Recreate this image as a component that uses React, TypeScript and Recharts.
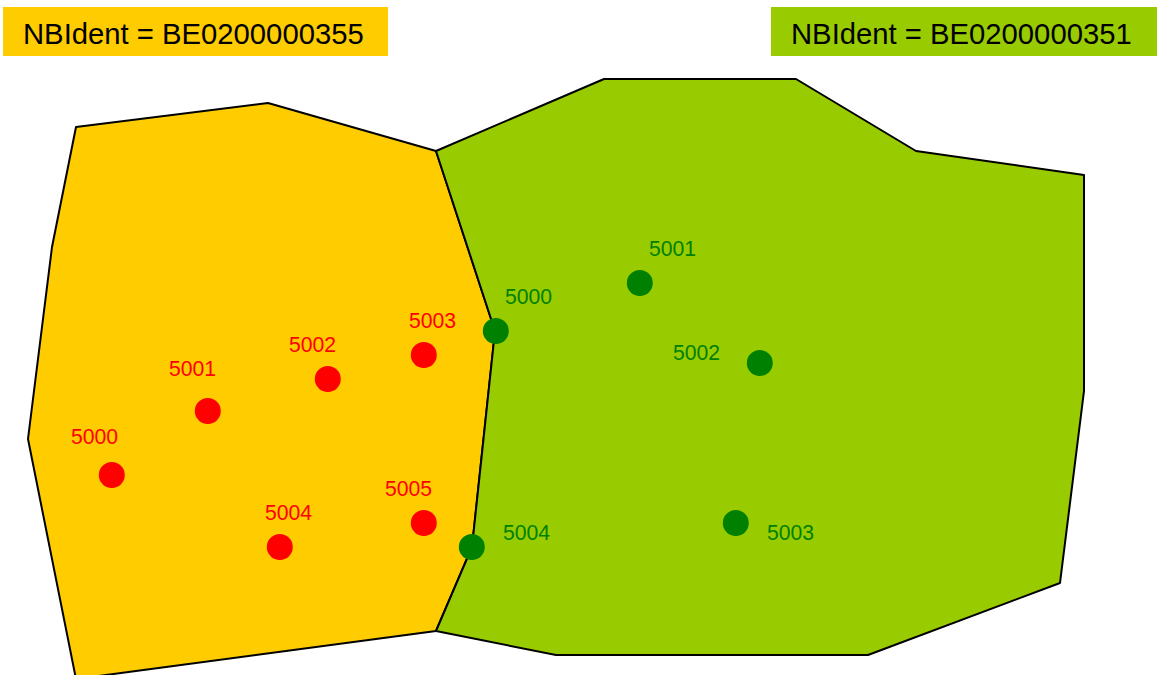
import React from 'react';
import { ScatterChart, Scatter, XAxis, YAxis, ReferenceArea } from 'recharts';

const orangeRegion = [
  { x: 76, y: 127 }, { x: 268, y: 103 }, { x: 436, y: 151 }, { x: 495, y: 331 }, { x: 472, y: 547 },
  { x: 436, y: 631 }, { x: 76, y: 679 }, { x: 28, y: 439 }, { x: 52, y: 247 },
];
const greenRegion = [
  { x: 436, y: 151 }, { x: 604, y: 79 }, { x: 796, y: 79 }, { x: 916, y: 151 }, { x: 1084, y: 175 },
  { x: 1084, y: 391 }, { x: 1060, y: 583 }, { x: 868, y: 655 }, { x: 556, y: 655 }, { x: 436, y: 631 },
  { x: 472, y: 547 }, { x: 495, y: 331 },
];
const redPoints = [
  { x: 111.8, y: 475 }, { x: 207.8, y: 411 }, { x: 327.8, y: 379 }, { x: 423.8, y: 355 }, { x: 279.8, y: 547 }, { x: 423.8, y: 523 },
];
const greenPoints = [
  { x: 495.8, y: 331 }, { x: 639.8, y: 283 }, { x: 759.8, y: 363 }, { x: 735.8, y: 523 }, { x: 471.8, y: 547 },
];
const redLabels = [
  { x: 71, y: 444, text: '5000' }, { x: 169, y: 376, text: '5001' }, { x: 289, y: 352, text: '5002' },
  { x: 409, y: 328, text: '5003' }, { x: 265, y: 520, text: '5004' }, { x: 385, y: 496, text: '5005' },
];
const greenLabels = [
  { x: 505, y: 304, text: '5000' }, { x: 649, y: 256, text: '5001' }, { x: 673, y: 360, text: '5002' },
  { x: 767, y: 540, text: '5003' }, { x: 503, y: 540, text: '5004' },
];
const legendLabels = [
  { x: 23, y: 44, text: 'NBIdent = BE0200000355' },
  { x: 791, y: 44, text: 'NBIdent = BE0200000351' },
];

const FONT = '"Liberation Sans", Arial, sans-serif';
const ORANGE = '#FFCC00';
const LIME = '#99CC00';
const RED = '#FF0000';
const GREEN = '#008000';

const polygon = (fill: string) => (p: any) => (
  <polygon
    points={p.points.map((q: any) => `${q.x},${q.y}`).join(' ')}
    fill={fill}
    stroke="#000"
    strokeWidth={2}
    strokeLinejoin="round"
  />
);
const noPoint = () => <g />;
const dot = (fill: string) => (p: any) => <circle cx={p.cx} cy={p.cy} r={13} fill={fill} />;
const text = (fill: string, size: number) => (p: any) => (
  <text x={p.cx} y={p.cy} fill={fill} fontSize={size} fontFamily={FONT}>{p.payload.text}</text>
);

export default function App() {
  return (
    <div style={{ position: 'absolute', left: 0, top: 0, width: 1157, height: 675, overflow: 'hidden' }}>
      <ScatterChart width={1157} height={720} margin={{ top: 0, right: 0, bottom: 0, left: 0 }}>
        <XAxis type="number" dataKey="x" domain={[0, 1157]} hide />
        <YAxis type="number" dataKey="y" domain={[0, 720]} reversed hide />
        <ReferenceArea x1={3} x2={388} y1={7} y2={56} fill={ORANGE} fillOpacity={1} stroke="none" />
        <ReferenceArea x1={771} x2={1157} y1={7} y2={56} fill={LIME} fillOpacity={1} stroke="none" />
        <Scatter data={orangeRegion} line={polygon(ORANGE)} shape={noPoint} isAnimationActive={false} />
        <Scatter data={greenRegion} line={polygon(LIME)} shape={noPoint} isAnimationActive={false} />
        <Scatter data={redPoints} shape={dot(RED)} isAnimationActive={false} />
        <Scatter data={greenPoints} shape={dot(GREEN)} isAnimationActive={false} />
        <Scatter data={redLabels} shape={text(RED, 21.2)} isAnimationActive={false} />
        <Scatter data={greenLabels} shape={text(GREEN, 21.2)} isAnimationActive={false} />
        <Scatter data={legendLabels} shape={text('#000', 29.25)} isAnimationActive={false} />
      </ScatterChart>
    </div>
  );
}
